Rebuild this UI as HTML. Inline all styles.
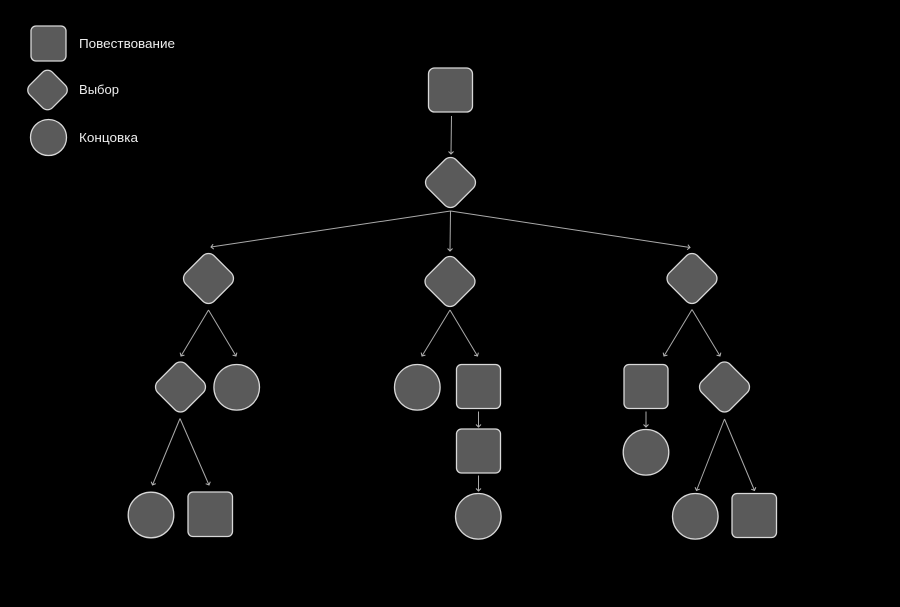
<!DOCTYPE html>
<html><head><meta charset="utf-8"><style>
html,body{margin:0;padding:0;background:#000;width:900px;height:607px;overflow:hidden}
svg{display:block}
.s{fill:#5a5a5a;stroke:#d8d8d8;stroke-width:1.3}
.a{fill:none;stroke:#aaa;stroke-width:1}
.h{fill:none;stroke:#b4b4b4;stroke-width:1}
text{font-family:"Liberation Sans",sans-serif;font-size:13px;fill:#ececec}
</style></head><body>
<svg width="900" height="607" viewBox="0 0 900 607" xmlns="http://www.w3.org/2000/svg">
<defs><marker id="m" markerUnits="userSpaceOnUse" markerWidth="12" markerHeight="12" refX="8" refY="6" orient="auto"><path d="M5.500 3.500L8 6L5.500 8.500" class="h"/></marker></defs>
<rect width="900" height="607" fill="#000"/>
<!-- legend -->
<rect class="s" x="31" y="26" width="35" height="35" rx="5"/>
<rect class="s" x="31.500" y="74" width="32" height="32" rx="7" transform="rotate(45 47.500 90)"/>
<circle class="s" cx="48.500" cy="137.500" r="18"/>
<text x="79" y="48" textLength="96" lengthAdjust="spacingAndGlyphs">Повествование</text>
<text x="79" y="94" textLength="40" lengthAdjust="spacingAndGlyphs">Выбор</text>
<text x="79" y="142" textLength="59" lengthAdjust="spacingAndGlyphs">Концовка</text>
<!-- connectors -->
<path class="a" marker-end="url(#m)" d="M451.500 116L451 154"/>
<path class="a" marker-end="url(#m)" d="M450.500 211L211 247"/>
<path class="a" marker-end="url(#m)" d="M450.500 211L450 251"/>
<path class="a" marker-end="url(#m)" d="M450.500 211L690 247.500"/>
<path class="a" marker-end="url(#m)" d="M208.500 310L181 356"/>
<path class="a" marker-end="url(#m)" d="M208.500 310L236 356"/>
<path class="a" marker-end="url(#m)" d="M180 418.500L152.500 485"/>
<path class="a" marker-end="url(#m)" d="M180 418.500L209 485"/>
<path class="a" marker-end="url(#m)" d="M450 310L422 356"/>
<path class="a" marker-end="url(#m)" d="M450 310L477.500 356"/>
<path class="a" marker-end="url(#m)" d="M478.500 411.500L478.500 427"/>
<path class="a" marker-end="url(#m)" d="M478.500 475.500L478.500 491"/>
<path class="a" marker-end="url(#m)" d="M692 309.500L664 356"/>
<path class="a" marker-end="url(#m)" d="M692 309.500L720 356"/>
<path class="a" marker-end="url(#m)" d="M646 411.500L646 427"/>
<path class="a" marker-end="url(#m)" d="M724.500 419L696.500 490.500"/>
<path class="a" marker-end="url(#m)" d="M724.500 419L754.500 490.500"/>
<!-- squares -->
<rect class="s" x="428.500" y="68" width="44" height="44" rx="6"/>
<rect class="s" x="456.500" y="364.500" width="44" height="44" rx="5"/>
<rect class="s" x="456.500" y="429" width="44" height="44" rx="5"/>
<rect class="s" x="624" y="364.500" width="44" height="44" rx="5"/>
<rect class="s" x="732" y="493.500" width="44.500" height="44" rx="5"/>
<rect class="s" x="188" y="492" width="44.500" height="44.500" rx="5"/>
<!-- diamonds -->
<rect class="s" x="430.500" y="162.500" width="40" height="40" rx="8" transform="rotate(45 450.500 182.500)"/>
<rect class="s" x="188.500" y="258.500" width="40" height="40" rx="8" transform="rotate(45 208.500 278.500)"/>
<rect class="s" x="430" y="261.500" width="40" height="40" rx="8" transform="rotate(45 450 281.500)"/>
<rect class="s" x="672" y="258.500" width="40" height="40" rx="8" transform="rotate(45 692 278.500)"/>
<rect class="s" x="160.500" y="367" width="40" height="40" rx="8" transform="rotate(45 180.500 387)"/>
<rect class="s" x="704.500" y="367" width="40" height="40" rx="8" transform="rotate(45 724.500 387)"/>
<!-- circles -->
<circle class="s" cx="236.700" cy="387.300" r="22.800"/>
<circle class="s" cx="417.300" cy="387.300" r="22.800"/>
<circle class="s" cx="478.300" cy="516.300" r="22.800"/>
<circle class="s" cx="646" cy="452.300" r="22.800"/>
<circle class="s" cx="695.300" cy="516.300" r="22.800"/>
<circle class="s" cx="151" cy="515" r="22.800"/>
</svg>
</body></html>
